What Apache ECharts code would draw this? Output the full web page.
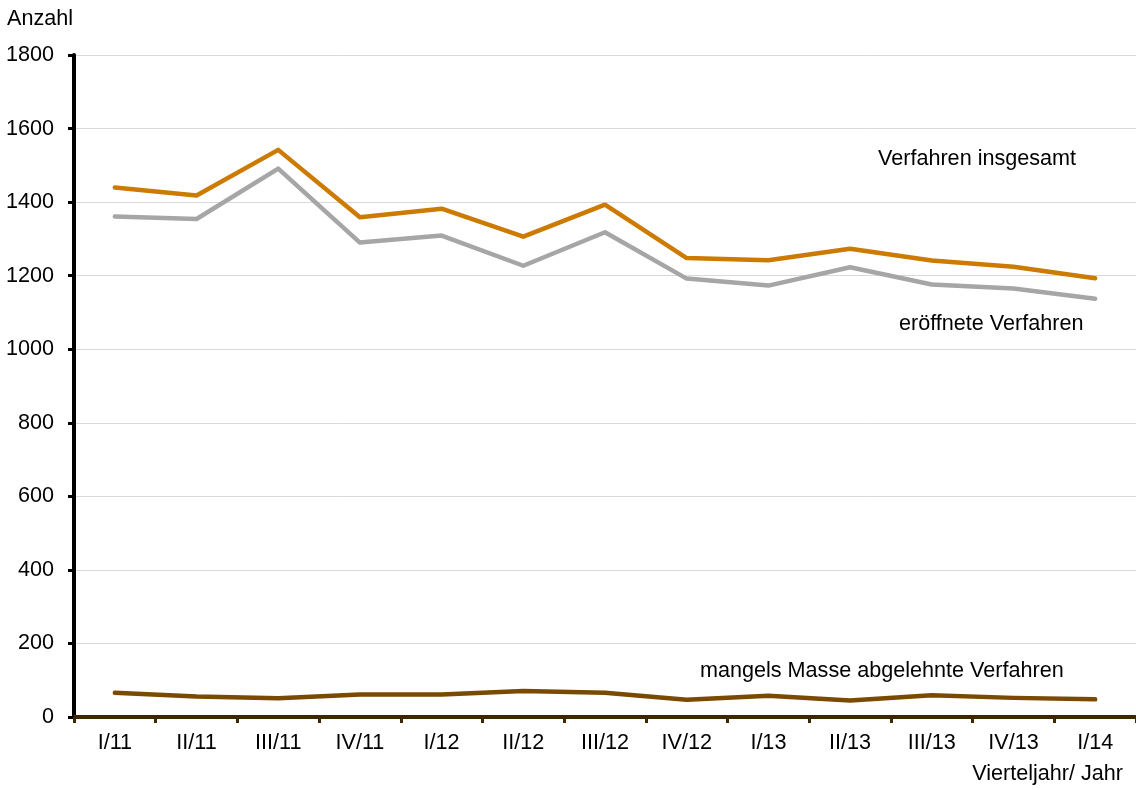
<!DOCTYPE html>
<html>
<head>
<meta charset="utf-8">
<script src="https://cdn.jsdelivr.net/npm/echarts@6/dist/echarts.min.js"></script>
<style>
  html, body { margin: 0; padding: 0; background: #fff; }
  #chart { width: 1136px; height: 790px; }
</style>
</head>
<body>
<div id="chart"></div>
<script>
// Quartale
const quarters = ['I/11', 'II/11', 'III/11', 'IV/11', 'I/12', 'II/12', 'III/12',
  'IV/12', 'I/13', 'II/13', 'III/13', 'IV/13', 'I/14'];

// Verfahren insgesamt
const totalProceedings = [1440, 1418, 1542, 1359, 1382, 1306, 1393, 1248, 1242, 1273, 1241, 1224, 1193];
// eröffnete Verfahren
const openedProceedings = [1361, 1354, 1491, 1290, 1309, 1227, 1318, 1192, 1173, 1223, 1176, 1165, 1137];
// mangels Masse abgelehnte Verfahren
const rejectedProceedings = [66, 56, 51, 61, 61, 71, 66, 47, 58, 45, 59, 52, 48];

const FONT = 'Liberation Sans, Arial, sans-serif';
const FONT_SIZE = 21.6;

const chart = echarts.init(document.getElementById('chart'), null, { renderer: 'canvas' });

// Textbeschriftung im Diagramm
function label(text, x, y, align) {
  return {
    type: 'text',
    x: x,
    y: y,
    style: {
      text: text,
      font: FONT_SIZE + 'px ' + FONT,
      fill: '#000',
      align: align || 'left',
      verticalAlign: 'middle',
      textAlign: align || 'left',
      textVerticalAlign: 'middle'
    }
  };
}

const option = {
  backgroundColor: '#fff',
  animation: false,
  grid: { left: 74, top: 55, width: 1067, height: 662 },
  xAxis: {
    type: 'category',
    data: quarters,
    boundaryGap: true,
    axisLine: { show: true, lineStyle: { color: '#3d2700', width: 4 } },
    axisTick: { show: true, length: 6, lineStyle: { color: '#3d2700', width: 3 } },
    axisLabel: { color: '#000', fontSize: FONT_SIZE, fontFamily: FONT, margin: 15 },
    splitLine: { show: false }
  },
  yAxis: {
    type: 'value',
    min: 0,
    max: 1800,
    interval: 200,
    axisLine: { show: true, lineStyle: { color: '#000', width: 4 } },
    axisTick: { show: true, length: 6, lineStyle: { color: '#000', width: 3 } },
    axisLabel: {
      color: '#000',
      fontSize: FONT_SIZE,
      fontFamily: FONT,
      margin: 20,
      formatter: v => String(v)
    },
    splitLine: { show: true, lineStyle: { color: '#d9d9d9', width: 1 } }
  },
  series: [
    {
      name: 'eröffnete Verfahren',
      type: 'line',
      data: openedProceedings,
      symbol: 'none',
      lineStyle: { color: '#a6a6a6', width: 4.5, cap: 'round', join: 'round' },
      z: 2
    },
    {
      name: 'Verfahren insgesamt',
      type: 'line',
      data: totalProceedings,
      symbol: 'none',
      lineStyle: { color: '#cc7a00', width: 4.5, cap: 'round', join: 'round' },
      z: 3
    },
    {
      name: 'mangels Masse abgelehnte Verfahren',
      type: 'line',
      data: rejectedProceedings,
      symbol: 'none',
      lineStyle: { color: '#7a4a00', width: 4.5, cap: 'round', join: 'round' },
      z: 3
    }
  ],
  graphic: [
    label('Anzahl', 7, 19),
    label('Verfahren insgesamt', 878, 159),
    label('eröffnete Verfahren', 899, 324),
    label('mangels Masse abgelehnte Verfahren', 700, 671),
    label('Vierteljahr/ Jahr', 1123, 774, 'right')
  ]
};

chart.setOption(option);
window.addEventListener('resize', () => chart.resize());
</script>
</body>
</html>
